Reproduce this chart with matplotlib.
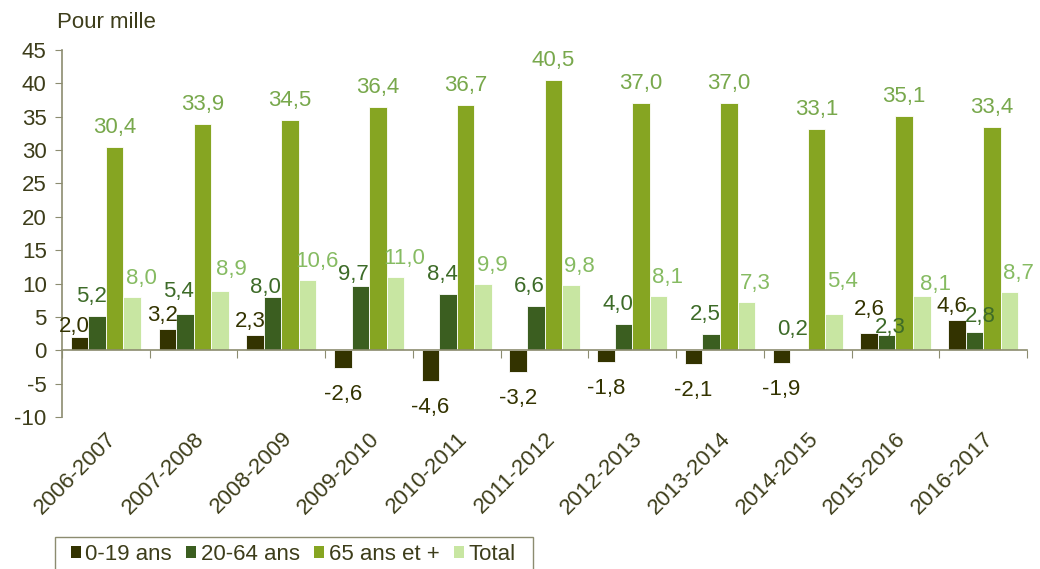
import numpy as np
import matplotlib
matplotlib.use("Agg")
from matplotlib import pyplot as plt
from matplotlib.patches import Patch, Rectangle

plt.rcParams['font.family'] = ['Liberation Sans', 'DejaVu Sans']

periodes = ['2006-2007', '2007-2008', '2008-2009', '2009-2010', '2010-2011',
            '2011-2012', '2012-2013', '2013-2014', '2014-2015', '2015-2016',
            '2016-2017']
ages_0_19 = [2.0, 3.2, 2.3, -2.6, -4.6, -3.2, -1.8, -2.1, -1.9, 2.6, 4.6]
ages_20_64 = [5.2, 5.4, 8.0, 9.7, 8.4, 6.6, 4.0, 2.5, 0.2, 2.3, 2.8]
ages_65 = [30.4, 33.9, 34.5, 36.4, 36.7, 40.5, 37.0, 37.0, 33.1, 35.1, 33.4]
total = [8.0, 8.9, 10.6, 11.0, 9.9, 9.8, 8.1, 7.3, 5.4, 8.1, 8.7]
noms = ['0-19 ans', '20-64 ans', '65 ans et +', 'Total']
yticks = [-10, -5, 0, 5, 10, 15, 20, 25, 30, 35, 40, 45]

couleurs = ['#333300', '#3b5e20', '#86a522', '#c8e6a2']
couleurs_txt = ['#333300', '#3d6b28', '#78a84c', '#86bb62']
texte = '#3d3d1a'
axe = '#8c8c70'

# label placement in pixels: (dx, gap from bar end) per series, a few moved by hand
decalage = [(-5, 8), (-6, 14), (0, 14), (9, 13)]
retouches = {(0, 0): (-5, 5), (0, 9): (0, 18), (0, 4): (-9, 8),
             (1, 2): (-7, 4), (1, 3): (-7, 6), (1, 9): (4, 2), (1, 10): (6, 10),
             (1, 1): (-6, 17), (3, 8): (8, 27), (3, 9): (14, 6), (3, 1): (11, 16)}
PX = 0.72  # points per pixel at 100 dpi


def etiquette(ax, xpos, val, texte_val, couleur, dx, gap):
    if val >= 0:
        ax.annotate(texte_val, (xpos, val), xytext=(dx * PX, gap * PX),
                    textcoords='offset points', ha='center', va='baseline',
                    color=couleur, fontsize=16)
    else:
        ax.annotate(texte_val, (xpos, val), xytext=(dx * PX, -gap * PX),
                    textcoords='offset points', ha='center', va='top',
                    color=couleur, fontsize=16)


fig = plt.figure(figsize=(10.4, 5.69), dpi=100)
ax = fig.add_axes([62 / 1040, 1 - 417 / 569, (1027 - 62) / 1040, (417 - 50) / 569])

x = np.arange(len(periodes))
largeur = 0.2
series = [ages_0_19, ages_20_64, ages_65, total]
for i, vals in enumerate(series):
    pos = x + (i - 1.5) * largeur
    ax.bar(pos, vals, largeur, color=couleurs[i], edgecolor='white',
           linewidth=0.6, zorder=2)
    for j, (p, v) in enumerate(zip(pos, vals)):
        dx, gap = retouches.get((i, j), decalage[i])
        if v < 0:
            dx, gap = 0, 16
        etiquette(ax, p, v, f"{v:.1f}".replace('.', ','), couleurs_txt[i], dx, gap)

ax.set_xlim(-0.5, len(periodes) - 0.5)
ax.set_ylim(-10, 45)
ax.set_yticks(yticks)
ax.set_yticklabels([str(t) for t in yticks], fontsize=16, color=texte)
ax.tick_params(axis='y', direction='out', length=5, color=axe, pad=6)

for s in ['top', 'right']:
    ax.spines[s].set_visible(False)
ax.spines['left'].set_color(axe)
ax.spines['left'].set_linewidth(1.2)
ax.spines['bottom'].set_position(('data', 0))
ax.spines['bottom'].set_color(axe)
ax.spines['bottom'].set_linewidth(1.2)
ax.spines['bottom'].set_zorder(3)

# ticks on the zero line between periods, labels below the plot
ax.set_xticks(np.arange(len(periodes) + 1) - 0.5)
ax.set_xticklabels([])
ax.tick_params(axis='x', direction='out', length=6, color=axe)
for xi, p in zip(x, periodes):
    ax.text(xi, -0.03, p, transform=ax.get_xaxis_transform(), rotation=45,
            ha='right', va='top', rotation_mode='anchor', fontsize=16,
            color=texte)

fig.text(57 / 1040, 1 - 28 / 569, 'Pour mille', fontsize=16, color=texte,
         ha='left', va='baseline')

# legend box runs past the bottom edge of the figure
fig.patches.append(Rectangle((55 / 1040, -0.05), (533 - 55) / 1040,
                             0.05 + 1 - 537 / 569, transform=fig.transFigure,
                             fill=False, edgecolor=axe, linewidth=1.0))
poignees = [Patch(facecolor=c, edgecolor='none') for c in couleurs]
leg = fig.legend(poignees, noms, loc='upper left',
                 bbox_to_anchor=(64 / 1040, 1 - 537 / 569), ncol=4,
                 fontsize=16, frameon=False, borderaxespad=0,
                 handlelength=0.45, handleheight=0.45, handletextpad=0.2,
                 columnspacing=0.65, borderpad=0.3, labelcolor=texte)

fig.savefig('out.png', dpi=100)
